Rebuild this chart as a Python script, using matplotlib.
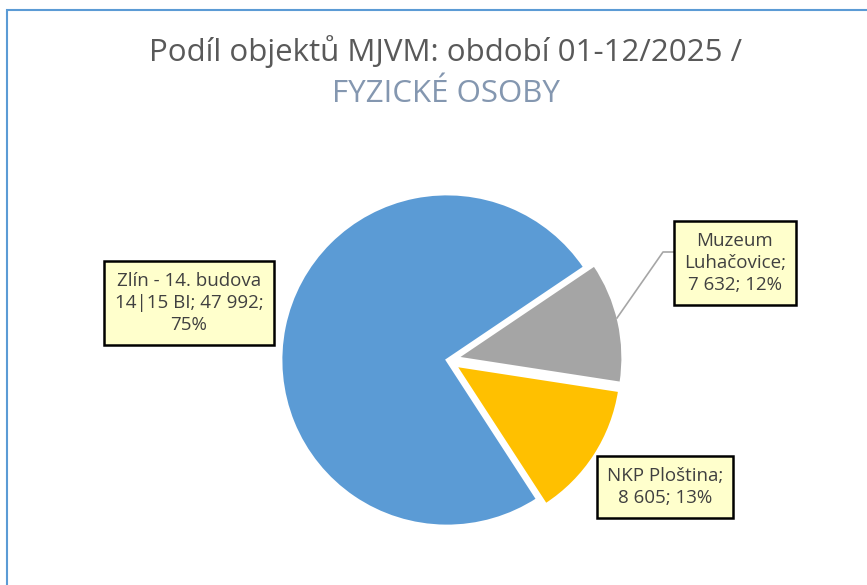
import matplotlib
matplotlib.use("Agg")
import matplotlib.pyplot as plt
from matplotlib.patches import Rectangle

plt.rcParams['font.family'] = ['Open Sans', 'DejaVu Sans']

# data
labels = ["Zlín - 14. budova\n14|15 BI", "Muzeum\nLuhačovice", "NKP Ploština"]
values = [47992, 7632, 8605]
percents = [75, 12, 13]
colors = ["#5B9BD5", "#A5A5A5", "#FFC000"]
explode = [0, 10, 10]

title_1 = "Podíl objektů MJVM: období 01-12/2025 /"
title_2 = "FYZICKÉ OSOBY"

W, H = 867, 585
fig = plt.figure(figsize=(W / 100, H / 100), dpi=100)
ax = fig.add_axes([0, 0, 1, 1])

# pixel-like coords, y measured from bottom (explode is in data units here)
wedges, _ = ax.pie(values, colors=colors, startangle=-57, counterclock=False,
                   center=(447, H - 360), radius=166, explode=explode,
                   wedgeprops=dict(edgecolor="white", linewidth=2))
ax.set_xlim(0, W)
ax.set_ylim(0, H)
ax.axis('off')

def fmt(v):
    return "{:,}".format(v).replace(",", " ")

box = dict(boxstyle="square,pad=0.55", fc="#FFFFCC", ec="black", lw=1.8)
txt = dict(fontsize=13.5, color="#404040", ha="center", va="center",
           linespacing=1.32, bbox=box)

# label texts
lab_zlin = "Zlín - 14. budova\n14|15 BI; {};\n{}%".format(fmt(values[0]), percents[0])
lab_muz = "Muzeum\nLuhačovice;\n{}; {}%".format(fmt(values[1]), percents[1])
lab_nkp = "{};\n{}; {}%".format(labels[2], fmt(values[2]), percents[2])

ax.text(189, H - 303, lab_zlin, **txt)
ax.text(735, H - 263, lab_muz, **txt)
ax.text(665, H - 487, lab_nkp, **txt)

# leader line for Muzeum
ax.plot([674, 663, 617], [H - 252, H - 252, H - 318], color="#A6A6A6", lw=1.2)

# title
fig.text(446 / W, 1 - 52 / H, title_1, ha="center", va="center",
         fontsize=22.5, color="#595959")
fig.text(446 / W, 1 - 94 / H, title_2, ha="center", va="center",
         fontsize=22.5, color="#8497B0")

# chart area border (left and top)
fig.add_artist(Rectangle((7 / W, -0.1), 1.2, 1.1 - 10 / H, transform=fig.transFigure,
                         fill=False, ec="#5B9BD5", lw=1.5))

fig.savefig("out.png", dpi=100)
